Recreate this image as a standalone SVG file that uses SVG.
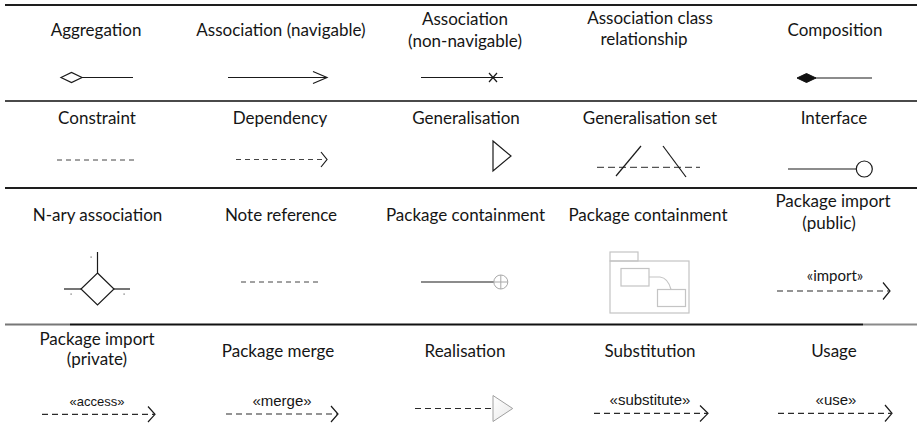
<svg xmlns="http://www.w3.org/2000/svg" width="921" height="439" viewBox="0 0 921 439">
  <defs>
    <style>
      .lbl { font-family: Lato, "Open Sans", "Liberation Sans", sans-serif; font-size: 17px; fill: #151515; text-anchor: middle; }
      .st { font-family: "Liberation Sans", Arial, sans-serif; font-size: 15px; fill: #151515; text-anchor: middle; }
      .st-small { font-family: "Liberation Sans", Arial, sans-serif; font-size: 13px; fill: #151515; text-anchor: middle; }
      .st-gill { font-family: Lato, "Liberation Sans", sans-serif; font-size: 15px; fill: #151515; text-anchor: middle; }
      .solid { stroke: #1a1a1a; stroke-width: 1.2; fill: none; }
      .dash { stroke: #2a2a2a; stroke-width: 1.2; fill: none; stroke-dasharray: 6 4; }
      .dash-fine { stroke: #444; stroke-width: 1; fill: none; stroke-dasharray: 5 4; }
      .head { stroke: #1a1a1a; stroke-width: 1.2; fill: none; stroke-linejoin: miter; }
      .pale { stroke: #c4c4c4; stroke-width: 1.2; fill: none; }
      .rule { stroke-width: 2; fill: none; }
    </style>
    <linearGradient id="realFill" x1="0" y1="0" x2="1" y2="1">
      <stop offset="0" stop-color="#ffffff"/>
      <stop offset="1" stop-color="#e8e8e8"/>
    </linearGradient>
  </defs>

  <rect width="921" height="439" fill="#ffffff"/>

  <!-- row dividers -->
  <g id="dividers">
    <line class="rule" x1="5" y1="5" x2="917" y2="5" stroke="#1e1e1e"/>
    <line class="rule" x1="5" y1="101" x2="917" y2="101" stroke="#4a4a4a"/>
    <line class="rule" x1="5" y1="188" x2="917" y2="188" stroke="#1e1e1e"/>
    <line class="rule" x1="5" y1="324.5" x2="70" y2="324.5" stroke="#777777"/>
    <line class="rule" x1="70" y1="324.5" x2="863" y2="324.5" stroke="#111111"/>
    <line class="rule" x1="863" y1="324.5" x2="917" y2="324.5" stroke="#8a8a8a"/>
  </g>

  <!-- row 1 -->
  <g id="aggregation">
    <text class="lbl" x="96" y="36">Aggregation</text>
  </g>
  <g id="association-navigable">
    <text class="lbl" x="281" y="36">Association (navigable)</text>
  </g>
  <g id="association-non-navigable">
    <text class="lbl" x="465" y="25">Association</text>
    <text class="lbl" x="465" y="47">(non-navigable)</text>
  </g>
  <g id="association-class">
    <text class="lbl" x="650" y="24">Association class</text>
    <text class="lbl" x="644" y="45">relationship</text>
  </g>
  <g id="composition">
    <text class="lbl" x="835" y="36">Composition</text>
  </g>

  <!-- row 2 -->
  <g id="constraint">
    <text class="lbl" x="97" y="124">Constraint</text>
  </g>
  <g id="dependency">
    <text class="lbl" x="280" y="124">Dependency</text>
  </g>
  <g id="generalisation">
    <text class="lbl" x="466" y="124">Generalisation</text>
  </g>
  <g id="generalisation-set">
    <text class="lbl" x="650" y="124">Generalisation set</text>
  </g>
  <g id="interface">
    <text class="lbl" x="834" y="124">Interface</text>
  </g>

  <!-- row 3 -->
  <g id="n-ary-association">
    <text class="lbl" x="97.5" y="221">N-ary association</text>
  </g>
  <g id="note-reference">
    <text class="lbl" x="281" y="221">Note reference</text>
  </g>
  <g id="package-containment-1">
    <text class="lbl" x="465.5" y="221">Package containment</text>
  </g>
  <g id="package-containment-2">
    <text class="lbl" x="648" y="221">Package containment</text>
    <g class="pale">
      <rect x="610" y="252" width="28" height="9"/>
      <rect x="610" y="261" width="79" height="52"/>
      <rect x="621" y="268.5" width="28" height="17.5"/>
      <rect x="657.5" y="289.5" width="28" height="17"/>
      <path d="M649 277 H660 Q668 278 671 289.5"/>
    </g>
  </g>
  <g id="package-import-public">
    <text class="lbl" x="833" y="207">Package import</text>
    <text class="lbl" x="829" y="229">(public)</text>
    <text class="st-gill" x="835" y="281">«import»</text>
  </g>

  <!-- row 4 -->
  <g id="package-import-private">
    <text class="lbl" x="97" y="345">Package import</text>
    <text class="lbl" x="97" y="365">(private)</text>
    <text class="st-small" x="97" y="406">«access»</text>
  </g>
  <g id="package-merge">
    <text class="lbl" x="278" y="357">Package merge</text>
    <text class="st" x="282" y="406">«merge»</text>
  </g>
  <g id="realisation">
    <text class="lbl" x="465" y="357">Realisation</text>
  </g>
  <g id="substitution">
    <text class="lbl" x="650" y="357">Substitution</text>
    <text class="st" x="650" y="405">«substitute»</text>
  </g>
  <g id="usage">
    <text class="lbl" x="834" y="357">Usage</text>
    <text class="st" x="836" y="405">«use»</text>
  </g>

  <!-- connectors and end markers -->
  <g id="connectors">
    <!-- aggregation: hollow diamond -->
    <line class="solid" x1="82" y1="77.5" x2="133" y2="77.5"/>
    <path class="head" d="M61 77.5 L71.5 72.5 L82 77.5 L71.5 82.5 Z" fill="#fff"/>

    <!-- navigable association -->
    <line class="solid" x1="228" y1="77.5" x2="327" y2="77.5"/>
    <path class="head" d="M313 71.5 L327 77.5 L313 83.5"/>

    <!-- non-navigable association -->
    <line class="solid" x1="421" y1="77.5" x2="503" y2="77.5"/>
    <path class="head" d="M489 73 L497 82 M497 73 L489 82"/>

    <!-- composition: filled diamond -->
    <line class="solid" x1="815" y1="78" x2="872" y2="78"/>
    <path d="M797 78 L806.5 73.5 L816 78 L806.5 82.5 Z" fill="#111" stroke="#111" stroke-width="1"/>

    <!-- constraint -->
    <line class="dash-fine" x1="57" y1="160" x2="138" y2="160"/>

    <!-- dependency -->
    <line class="dash-fine" x1="236" y1="159.5" x2="326" y2="159.5"/>
    <path class="head" d="M321 152 L327 159.5 L321 167"/>

    <!-- generalisation: hollow triangle -->
    <path class="head" d="M493 141 L511 156 L493 171 Z" fill="#fff"/>

    <!-- generalisation set -->
    <line x1="597" y1="167.3" x2="700" y2="167.3" stroke="#555" stroke-width="1.2" stroke-dasharray="7 4"/>
    <line class="solid" x1="616" y1="176" x2="641" y2="146"/>
    <line class="solid" x1="663" y1="146" x2="686" y2="177"/>

    <!-- interface: lollipop -->
    <line class="solid" x1="788" y1="169" x2="856" y2="169"/>
    <circle class="head" cx="864.3" cy="169" r="8" fill="#fff"/>

    <!-- n-ary association diamond -->
    <path class="solid" d="M97.5 273 L114 289 L97.5 305 L81 289 Z"/>
    <line class="solid" x1="97.5" y1="252" x2="97.5" y2="273"/>
    <line class="solid" x1="64" y1="289" x2="81" y2="289"/>
    <line class="solid" x1="114" y1="289" x2="130" y2="289"/>
    <g fill="#666">
      <rect x="90.5" y="256.5" width="1.2" height="1.2"/>
      <rect x="70.5" y="293.5" width="1.2" height="1.2"/>
      <rect x="123.5" y="293.5" width="1.2" height="1.2"/>
    </g>

    <!-- note reference -->
    <line class="dash-fine" x1="241" y1="282" x2="322" y2="282"/>

    <!-- package containment: line with circled plus -->
    <line class="solid" x1="421" y1="282" x2="494" y2="282"/>
    <g stroke="#a8a8a8" stroke-width="1" fill="none">
      <circle cx="500.8" cy="282" r="7"/>
      <line x1="493.8" y1="282" x2="507.8" y2="282"/>
      <line x1="500.8" y1="275" x2="500.8" y2="289"/>
    </g>

    <!-- package import (public) -->
    <line class="dash" x1="777" y1="291" x2="889" y2="291"/>
    <path class="head" d="M883 282.5 L890 291 L883 299.5"/>

    <!-- package import (private) -->
    <line class="dash" x1="42" y1="414.3" x2="154" y2="414.3"/>
    <path class="head" d="M148 406.5 L155 414.3 L148 422"/>

    <!-- package merge -->
    <line class="dash" x1="226" y1="414" x2="337" y2="414"/>
    <path class="head" d="M331 406 L338 414 L331 422"/>

    <!-- realisation -->
    <line class="dash" x1="415" y1="408.5" x2="493" y2="408.5"/>
    <path d="M493 395.5 L512.7 408.5 L493 421.5 Z" fill="url(#realFill)" stroke="#a0a0a0" stroke-width="1"/>

    <!-- substitution -->
    <line class="dash" x1="594" y1="413.3" x2="707" y2="413.3"/>
    <path class="head" d="M700 405.5 L708 413.3 L700 421.5"/>

    <!-- usage -->
    <line class="dash" x1="778" y1="413.3" x2="891" y2="413.3"/>
    <path class="head" d="M885 405 L892 413.3 L885 421.5"/>
  </g>
</svg>
